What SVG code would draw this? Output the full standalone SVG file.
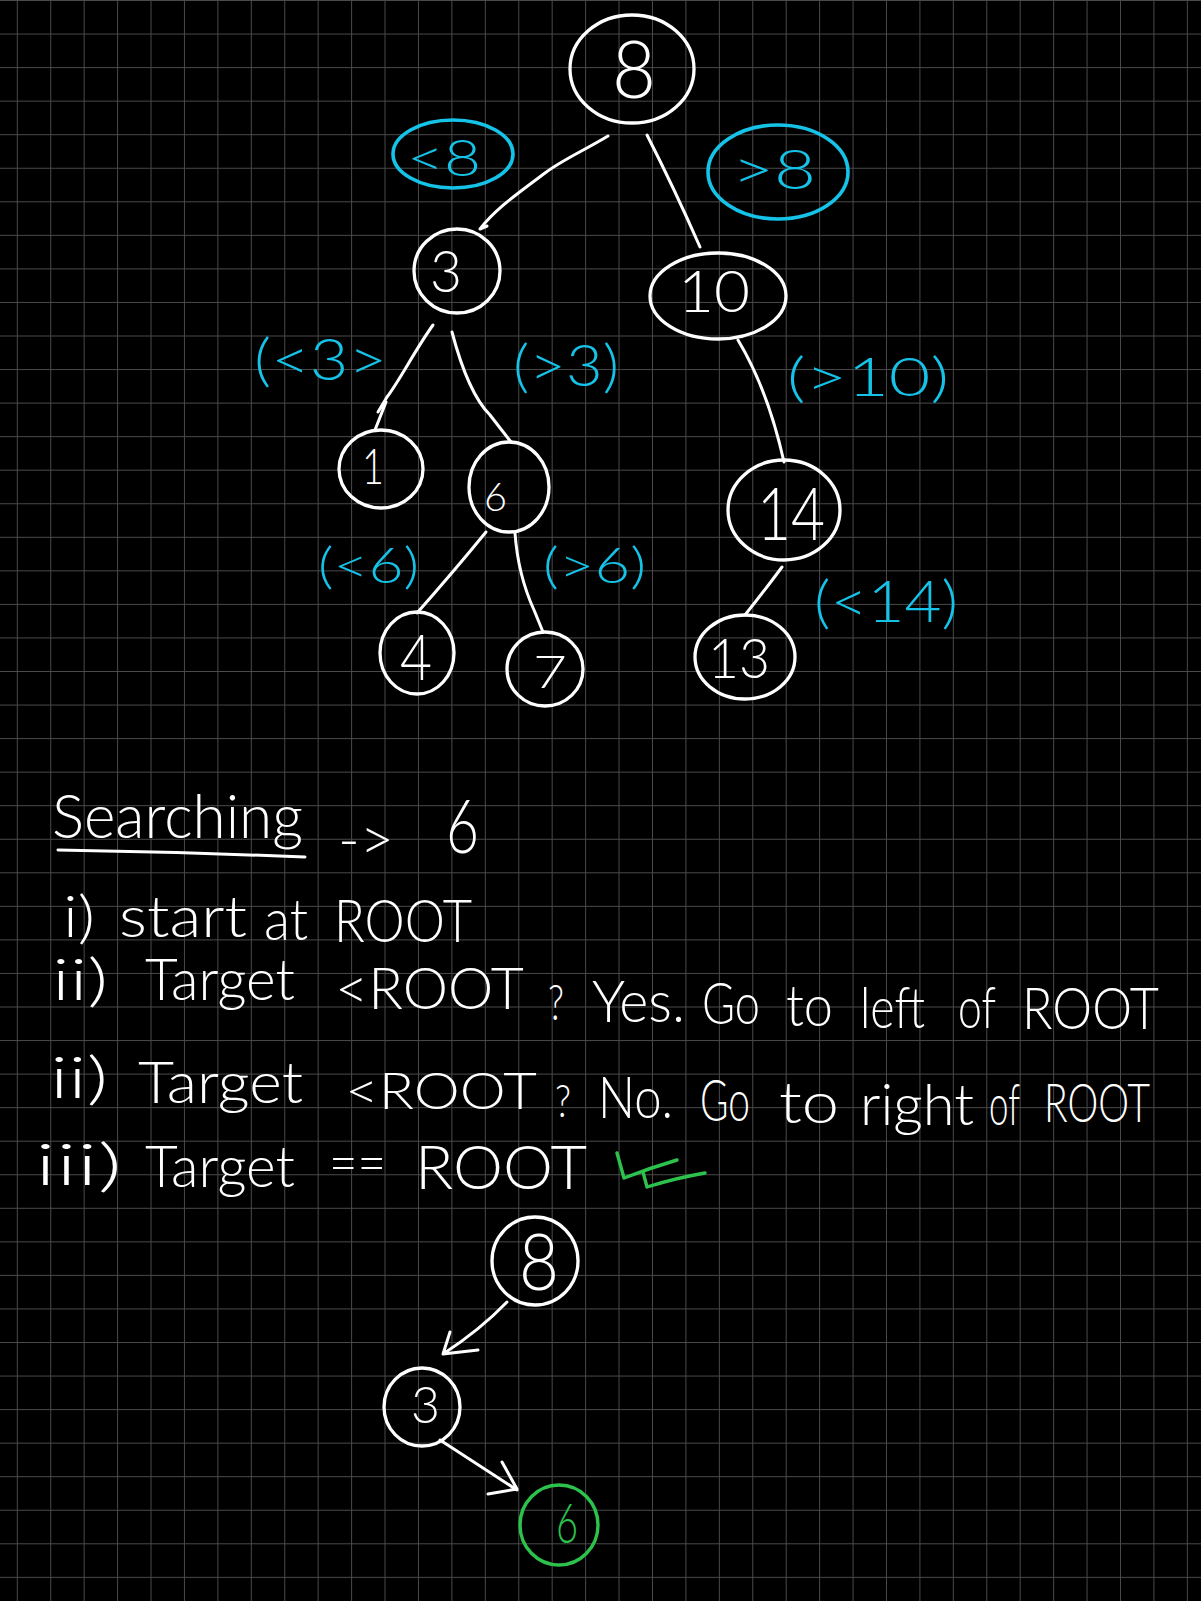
<svg xmlns="http://www.w3.org/2000/svg" width="1201" height="1601" viewBox="0 0 1201 1601">
<style>
.grid{fill:none;stroke:#4a4a4a;stroke-width:1}
.n{fill:none;stroke:#fff;stroke-width:3.3}
.w{fill:none;stroke:#fff;stroke-width:3;stroke-linecap:round;stroke-linejoin:round}
.c{fill:none;stroke:#16c3e8;stroke-width:3.6}
.gr{fill:none;stroke:#2cc24c;stroke-width:3.4;stroke-linecap:round;stroke-linejoin:round}
text{font-family:Lato,"Liberation Sans","DejaVu Sans",sans-serif;font-weight:300}
.t{fill:#fff}
.ct{fill:#16c3e8}
.gt{fill:#2cc24c}
</style>
<rect x="0" y="0" width="1201" height="1601" fill="#000"/>
<path class="grid" d="M17.3 0V1601M50.73 0V1601M84.16 0V1601M117.59 0V1601M151.02 0V1601M184.45 0V1601M217.88 0V1601M251.31 0V1601M284.74 0V1601M318.17 0V1601M351.6 0V1601M385.03 0V1601M418.46 0V1601M451.89 0V1601M485.32 0V1601M518.75 0V1601M552.18 0V1601M585.61 0V1601M619.04 0V1601M652.47 0V1601M685.9 0V1601M719.33 0V1601M752.76 0V1601M786.19 0V1601M819.62 0V1601M853.05 0V1601M886.48 0V1601M919.91 0V1601M953.34 0V1601M986.77 0V1601M1020.2 0V1601M1053.63 0V1601M1087.06 0V1601M1120.49 0V1601M1153.92 0V1601M1187.35 0V1601M0 0.5H1201M0 34.05H1201M0 67.6H1201M0 101.15H1201M0 134.7H1201M0 168.25H1201M0 201.8H1201M0 235.35H1201M0 268.9H1201M0 302.45H1201M0 336H1201M0 369.55H1201M0 403.1H1201M0 436.65H1201M0 470.2H1201M0 503.75H1201M0 537.3H1201M0 570.85H1201M0 604.4H1201M0 637.95H1201M0 671.5H1201M0 705.05H1201M0 738.6H1201M0 772.15H1201M0 805.7H1201M0 839.25H1201M0 872.8H1201M0 906.35H1201M0 939.9H1201M0 973.45H1201M0 1007H1201M0 1040.55H1201M0 1074.1H1201M0 1107.65H1201M0 1141.2H1201M0 1174.75H1201M0 1208.3H1201M0 1241.85H1201M0 1275.4H1201M0 1308.95H1201M0 1342.5H1201M0 1376.05H1201M0 1409.6H1201M0 1443.15H1201M0 1476.7H1201M0 1510.25H1201M0 1543.8H1201M0 1577.35H1201"/>

<g id="connectors">
<path class="w" d="M608,136 C585,150 562,160 545,173 C520,192 496,208 480,229 L487,226"/>
<path class="w" d="M647,135 Q675,190 700,247"/>
<path class="w" d="M433,325 C415,350 400,380 387,397 L378,412 M386,402 L375,430"/>
<path class="w" d="M452,332 C462,370 475,400 490,415 L511,442"/>
<path class="w" d="M738,340 Q768,390 784,462"/>
<path class="w" d="M486,532 Q455,570 417,613"/>
<path class="w" d="M515,533 Q518,575 534,610 L543,632"/>
<path class="w" d="M782,567 Q765,590 745,615"/>
<path class="w" d="M507,1302 Q480,1330 443,1354 M450,1332 L443,1354 L478,1350"/>
<path class="w" d="M440,1440 L517,1490 M502,1462 L517,1489 L488,1494"/>
</g>

<g id="node-8">
<ellipse class="n" cx="632" cy="69" rx="62" ry="54"/>
<text class="t" x="612" y="98" font-size="80" textLength="44" lengthAdjust="spacingAndGlyphs">8</text>
</g>
<g id="node-3">
<ellipse class="n" cx="457" cy="271" rx="43" ry="42"/>
<text class="t" x="430" y="292" font-size="58" textLength="32" lengthAdjust="spacingAndGlyphs">3</text>
</g>
<g id="node-10">
<ellipse class="n" cx="718" cy="296" rx="68" ry="43"/>
<text class="t" x="678" y="312" font-size="58" textLength="72" lengthAdjust="spacingAndGlyphs">10</text>
</g>
<g id="node-1">
<ellipse class="n" cx="381" cy="469" rx="42" ry="39"/>
<text class="t" x="362" y="484" font-size="50" textLength="22" lengthAdjust="spacingAndGlyphs">1</text>
</g>
<g id="node-6">
<ellipse class="n" cx="509" cy="487" rx="40" ry="45"/>
<text class="t" x="484" y="511" font-size="40" textLength="23" lengthAdjust="spacingAndGlyphs">6</text>
</g>
<g id="node-14">
<ellipse class="n" cx="784" cy="510" rx="56" ry="50"/>
<text class="t" x="757" y="540" font-size="72" textLength="68" lengthAdjust="spacingAndGlyphs">14</text>
</g>
<g id="node-4">
<ellipse class="n" cx="417" cy="653" rx="37" ry="41"/>
<text class="t" x="400" y="680" font-size="64" textLength="32" lengthAdjust="spacingAndGlyphs">4</text>
</g>
<g id="node-7">
<ellipse class="n" cx="545" cy="669" rx="38" ry="37"/>
<text class="t" x="533" y="688" font-size="46" textLength="34" lengthAdjust="spacingAndGlyphs">7</text>
</g>
<g id="node-13">
<ellipse class="n" cx="745" cy="657" rx="50" ry="42"/>
<text class="t" x="708" y="678" font-size="56" textLength="62" lengthAdjust="spacingAndGlyphs">13</text>
</g>

<g id="label-lt8">
<ellipse class="c" cx="453" cy="154" rx="60" ry="34"/>
<text class="ct" x="407" y="176" font-size="52" textLength="74" lengthAdjust="spacingAndGlyphs">&lt;8</text>
</g>
<g id="label-gt8">
<ellipse class="c" cx="778" cy="172" rx="70" ry="47"/>
<text class="ct" x="732" y="189" font-size="56" textLength="84" lengthAdjust="spacingAndGlyphs">&gt;8</text>
</g>
<g id="label-lt3"><text class="ct" x="254" y="380" font-size="58" textLength="133" lengthAdjust="spacingAndGlyphs">(&lt;3&gt;</text></g>
<g id="label-gt3"><text class="ct" x="513" y="386" font-size="58" textLength="106" lengthAdjust="spacingAndGlyphs">(&gt;3)</text></g>
<g id="label-gt10"><text class="ct" x="787" y="396" font-size="54" textLength="162" lengthAdjust="spacingAndGlyphs">(&gt;10)</text></g>
<g id="label-lt6"><text class="ct" x="318" y="583" font-size="50" textLength="101" lengthAdjust="spacingAndGlyphs">(&lt;6)</text></g>
<g id="label-gt6"><text class="ct" x="543" y="583" font-size="50" textLength="103" lengthAdjust="spacingAndGlyphs">(&gt;6)</text></g>
<g id="label-lt14"><text class="ct" x="814" y="622" font-size="58" textLength="144" lengthAdjust="spacingAndGlyphs">(&lt;14)</text></g>

<g id="notes">
<text class="t" x="52" y="838" font-size="62" textLength="251" lengthAdjust="spacingAndGlyphs">Searching</text>
<path class="w" d="M58,850 Q180,852 305,857"/>
<text class="t" x="338" y="860" font-size="60" textLength="56" lengthAdjust="spacingAndGlyphs">-&gt;</text>
<text class="t" x="446" y="853" font-size="74" textLength="33" lengthAdjust="spacingAndGlyphs">6</text>

<text class="t" x="63" y="937" font-size="58" textLength="32" lengthAdjust="spacingAndGlyphs">i)</text>
<text class="t" x="119" y="937" font-size="58" textLength="128" lengthAdjust="spacingAndGlyphs">start</text>
<text class="t" x="264" y="940" font-size="58" textLength="44" lengthAdjust="spacingAndGlyphs">at</text>
<text class="t" x="334" y="942" font-size="60" textLength="138" lengthAdjust="spacingAndGlyphs">ROOT</text>

<text class="t" x="52" y="1000" font-size="58" textLength="56" lengthAdjust="spacingAndGlyphs">ii)</text>
<text class="t" x="145" y="1000" font-size="58" textLength="150" lengthAdjust="spacingAndGlyphs">Target</text>
<text class="t" x="335" y="1009" font-size="58" textLength="189" lengthAdjust="spacingAndGlyphs">&lt;ROOT</text>
<text class="t" x="548" y="1020" font-size="50" textLength="16" lengthAdjust="spacingAndGlyphs">?</text>
<text class="t" x="592" y="1022" font-size="58" textLength="93" lengthAdjust="spacingAndGlyphs">Yes.</text>
<text class="t" x="702" y="1024" font-size="58" textLength="58" lengthAdjust="spacingAndGlyphs">Go</text>
<text class="t" x="786" y="1026" font-size="58" textLength="47" lengthAdjust="spacingAndGlyphs">to</text>
<text class="t" x="860" y="1028" font-size="58" textLength="65" lengthAdjust="spacingAndGlyphs">left</text>
<text class="t" x="958" y="1028" font-size="58" textLength="38" lengthAdjust="spacingAndGlyphs">of</text>
<text class="t" x="1022" y="1029" font-size="58" textLength="137" lengthAdjust="spacingAndGlyphs">ROOT</text>

<text class="t" x="50" y="1098" font-size="58" textLength="58" lengthAdjust="spacingAndGlyphs">ii)</text>
<text class="t" x="138" y="1103" font-size="58" textLength="165" lengthAdjust="spacingAndGlyphs">Target</text>
<text class="t" x="345" y="1109" font-size="52" textLength="192" lengthAdjust="spacingAndGlyphs">&lt;ROOT</text>
<text class="t" x="555" y="1117" font-size="46" textLength="16" lengthAdjust="spacingAndGlyphs">?</text>
<text class="t" x="598" y="1118" font-size="58" textLength="75" lengthAdjust="spacingAndGlyphs">No.</text>
<text class="t" x="700" y="1121" font-size="58" textLength="50" lengthAdjust="spacingAndGlyphs">Go</text>
<text class="t" x="779" y="1123" font-size="58" textLength="60" lengthAdjust="spacingAndGlyphs">to</text>
<text class="t" x="860" y="1125" font-size="58" textLength="114" lengthAdjust="spacingAndGlyphs">right</text>
<text class="t" x="989" y="1125" font-size="58" textLength="31" lengthAdjust="spacingAndGlyphs">of</text>
<text class="t" x="1044" y="1122" font-size="54" textLength="106" lengthAdjust="spacingAndGlyphs">ROOT</text>

<text class="t" x="35" y="1185" font-size="58" textLength="87" lengthAdjust="spacingAndGlyphs">iii)</text>
<text class="t" x="145" y="1187" font-size="58" textLength="150" lengthAdjust="spacingAndGlyphs">Target</text>
<text class="t" x="329" y="1183" font-size="58" textLength="57" lengthAdjust="spacingAndGlyphs">==</text>
<text class="t" x="415" y="1189" font-size="62" textLength="172" lengthAdjust="spacingAndGlyphs">ROOT</text>
<path class="gr" d="M617,1153 L624,1178 Q650,1168 677,1160 M643,1172 L647,1187 Q676,1178 705,1173"/>
</g>

<g id="path-node-8">
<ellipse class="n" cx="535" cy="1261" rx="43" ry="44"/>
<text class="t" x="519" y="1290" font-size="78" textLength="40" lengthAdjust="spacingAndGlyphs">8</text>
</g>
<g id="path-node-3">
<ellipse class="n" cx="422" cy="1407" rx="38" ry="39"/>
<text class="t" x="411" y="1423" font-size="52" textLength="29" lengthAdjust="spacingAndGlyphs">3</text>
</g>
<g id="path-node-6">
<ellipse class="gr" cx="559" cy="1525" rx="39" ry="40"/>
<text class="gt" x="556" y="1543" font-size="56" textLength="22" lengthAdjust="spacingAndGlyphs">6</text>
</g>
</svg>
